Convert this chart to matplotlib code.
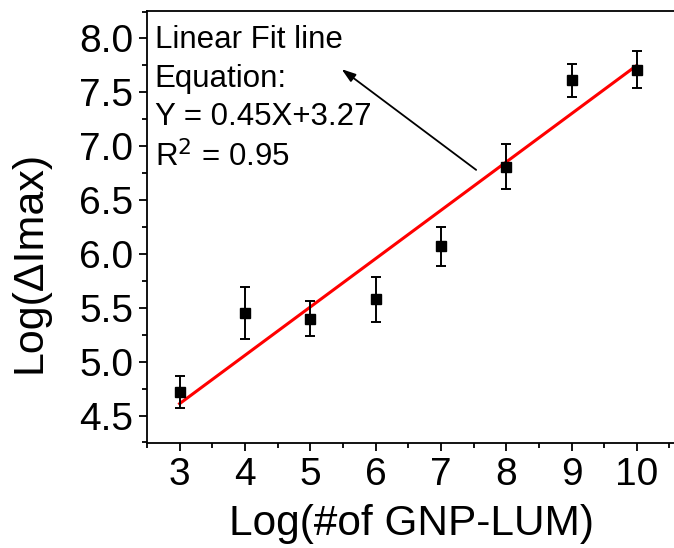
import matplotlib.pyplot as plt
from matplotlib.ticker import MultipleLocator

# data
x = [3, 4, 5, 6, 7, 8, 9, 10]
y = [4.72, 5.45, 5.40, 5.58, 6.07, 6.81, 7.61, 7.71]
yerr = [0.15, 0.24, 0.16, 0.21, 0.18, 0.21, 0.15, 0.17]

fit_x = [3, 10]
fit_y = [4.61, 7.75]

plt.rcParams['font.family'] = 'sans-serif'
plt.rcParams['font.sans-serif'] = ['Liberation Sans']

fig = plt.figure(figsize=(6.74, 5.48), dpi=100)
ax = fig.add_axes([0.218, 0.1916, 0.785, 0.788])

ax.errorbar(x, y, yerr=yerr, fmt='s', color='black', markersize=6.5,
            elinewidth=1.4, capsize=3.5, capthick=1.4, zorder=3)
ax.plot(fit_x, fit_y, color='red', linewidth=2.2, zorder=2)

ax.text(2.616, 7.913, "Linear Fit line", fontsize=22.5, va='baseline')
ax.text(2.616, 7.551, "Equation:", fontsize=22.5, va='baseline')
ax.text(2.616, 7.196, "Y = 0.45X+3.27", fontsize=22.5, va='baseline')
ax.text(2.616, 6.809, r"R$^2$ = 0.95", fontsize=22.5, va='baseline')
ax.annotate("", xy=(5.48, 7.715), xytext=(7.54, 6.78),
            arrowprops=dict(arrowstyle='-|>,head_length=0.6,head_width=0.2',
                            color='black', lw=1.3,
                            mutation_scale=14, shrinkA=0, shrinkB=0))

ax.set_xlim(2.5, 10.6)
ax.set_ylim(4.245, 8.253)
ax.xaxis.set_major_locator(MultipleLocator(1))
ax.xaxis.set_minor_locator(MultipleLocator(0.5))
ax.yaxis.set_minor_locator(MultipleLocator(0.25))
ax.set_yticks([4.5, 5.0, 5.5, 6.0, 6.5, 7.0, 7.5, 8.0])
ax.yaxis.set_major_formatter(plt.FormatStrFormatter('%.1f'))

ax.tick_params(which='major', direction='out', length=6, width=1.3, labelsize=28, pad=4)
ax.tick_params(which='minor', direction='out', length=3.5, width=1.3)
for s in ax.spines.values():
    s.set_linewidth(1.3)
ax.spines['right'].set_visible(False)

ax.set_xlabel("Log(#of GNP-LUM)", fontsize=30.5, labelpad=8)
ax.set_ylabel("Log(\u0394Imax)", fontsize=31)
ax.yaxis.set_label_coords(-0.185, 0.42)

plt.savefig("out.png", dpi=100)
